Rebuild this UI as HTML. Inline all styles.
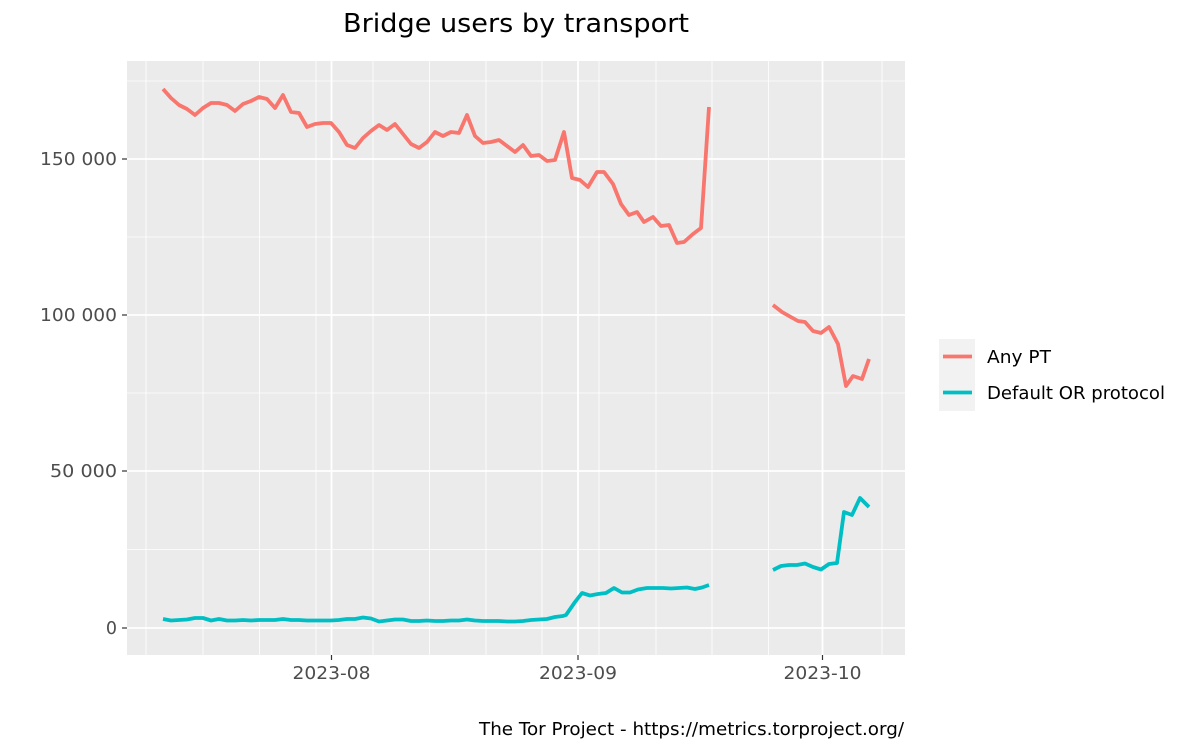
<!DOCTYPE html>
<html><head><meta charset="utf-8"><style>
html,body{margin:0;padding:0;background:#fff;}
svg{display:block;font-family:"DejaVu Sans","Liberation Sans",sans-serif;}
</style></head><body>
<svg width="1200" height="750" viewBox="0 0 1200 750" xmlns="http://www.w3.org/2000/svg">
<rect x="0" y="0" width="1200" height="750" fill="#fff"/>
<text x="516" y="32" font-size="26" text-anchor="middle" fill="#000" textLength="346" lengthAdjust="spacingAndGlyphs">Bridge users by transport</text>
<rect x="127" y="61" width="778" height="594" fill="#ebebeb"/>
<g stroke="#fff" stroke-width="0.8" fill="none">
<line x1="127" x2="905" y1="549.5" y2="549.5"/>
<line x1="127" x2="905" y1="393" y2="393"/>
<line x1="127" x2="905" y1="237" y2="237"/>
<line x1="127" x2="905" y1="81" y2="81"/>
<line y1="61" y2="655" x1="146" x2="146"/>
<line y1="61" y2="655" x1="203" x2="203"/>
<line y1="61" y2="655" x1="259.5" x2="259.5"/>
<line y1="61" y2="655" x1="316" x2="316"/>
<line y1="61" y2="655" x1="373" x2="373"/>
<line y1="61" y2="655" x1="429.5" x2="429.5"/>
<line y1="61" y2="655" x1="486" x2="486"/>
<line y1="61" y2="655" x1="542" x2="542"/>
<line y1="61" y2="655" x1="599" x2="599"/>
<line y1="61" y2="655" x1="656" x2="656"/>
<line y1="61" y2="655" x1="712" x2="712"/>
<line y1="61" y2="655" x1="768.5" x2="768.5"/>
<line y1="61" y2="655" x1="882" x2="882"/>
</g>
<g stroke="#fff" stroke-width="1.8" fill="none">
<line x1="127" x2="905" y1="628" y2="628"/>
<line x1="127" x2="905" y1="471" y2="471"/>
<line x1="127" x2="905" y1="315" y2="315"/>
<line x1="127" x2="905" y1="159" y2="159"/>
<line y1="61" y2="655" x1="331.5" x2="331.5"/>
<line y1="61" y2="655" x1="578" x2="578"/>
<line y1="61" y2="655" x1="822.5" x2="822.5"/>
</g>
<g stroke="#333" stroke-width="1.2">
<line x1="122" x2="127" y1="628" y2="628"/>
<line x1="122" x2="127" y1="471" y2="471"/>
<line x1="122" x2="127" y1="315" y2="315"/>
<line x1="122" x2="127" y1="159" y2="159"/>
<line y1="655" y2="660" x1="331.5" x2="331.5"/>
<line y1="655" y2="660" x1="578" x2="578"/>
<line y1="655" y2="660" x1="822.5" x2="822.5"/>
</g>
<g font-size="17.5" fill="#4d4d4d" text-anchor="end">
<text x="117" y="634">0</text>
<text x="117" y="477" textLength="67" lengthAdjust="spacingAndGlyphs">50 000</text>
<text x="117" y="321" textLength="77" lengthAdjust="spacingAndGlyphs">100 000</text>
<text x="117" y="165" textLength="77" lengthAdjust="spacingAndGlyphs">150 000</text>
</g>
<g font-size="17.5" fill="#4d4d4d" text-anchor="middle">
<text x="331.5" y="679" textLength="78" lengthAdjust="spacingAndGlyphs">2023-08</text>
<text x="578" y="679" textLength="78" lengthAdjust="spacingAndGlyphs">2023-09</text>
<text x="822.5" y="679" textLength="78" lengthAdjust="spacingAndGlyphs">2023-10</text>
</g>
<g fill="none" stroke="#f8766d" stroke-width="3.8" stroke-linejoin="round">
<polyline points="163,89 171,98 179,105 187,109 195,115 203,108 211,103 219,103 227,105 235,111 243,104 251,101 259,97 267,99 275,108 283,95 291,112 299,113 307,127 315,124 323,123 331,123 339,132 347,145 355,148 363,138 371,131 379,125 387,130 395,124 403,134 411,144 419,148 427,142 435,132 443,136 451,132 459,133 467,115 475,136 483,143 491,142 499,140 507,146 515,152 523,145 531,156 539,155 547,161 555,160 564,132 572,178 580,180 588,187 597,172 604,172 613,184 621,204 629,215 637,212 644,222 653,217 661,226 669,225 677,243 684,242 693,234 701,228 709,107"/>
<polyline points="773,305 782,312 789,316 798,321 805,322 813,331 821,333 829,327 838,344 846,386 853,376 862,379 869,359"/>
</g>
<g fill="none" stroke="#00bfc4" stroke-width="3.8" stroke-linejoin="round">
<polyline points="163,619 171,620.5 179,620 187,619.5 195,618 203,618 211,620.5 219,619 227,620.5 235,620.5 243,620 251,620.5 259,620 267,620 275,620 283,619 291,620 299,620 307,620.5 315,620.5 323,620.5 331,620.5 339,620 347,619 355,619 363,617.5 371,618.5 379,621.5 387,620.5 395,619.5 403,619.5 411,621 419,621 427,620.5 435,621 443,621 451,620.5 459,620.5 467,619.5 475,620.5 483,621 491,621 499,621 507,621.5 515,621.5 523,621 531,620 539,619.5 547,619 555,617 563,616 566,615 575,602 582,593 590,595.5 598,594 606,593 614,588 622,592.5 630,592.5 638,589.5 647,588 655,588 663,588 671,588.5 679,588 687,587.5 695,589 702,587.5 709,585"/>
<polyline points="773,570 781,566 789,565 797,565 805,563.5 813,567 821,569.5 829,564 837,563 844,512 852,515 860,498 869,507"/>
</g>
<rect x="939" y="339" width="36" height="72" fill="#f2f2f2"/>
<line x1="943" x2="972" y1="356.5" y2="356.5" stroke="#f8766d" stroke-width="3.8"/>
<line x1="943" x2="972" y1="392.5" y2="392.5" stroke="#00bfc4" stroke-width="3.8"/>
<g font-size="17.5" fill="#000">
<text x="987" y="363" textLength="64" lengthAdjust="spacingAndGlyphs">Any PT</text>
<text x="987" y="399" textLength="178" lengthAdjust="spacingAndGlyphs">Default OR protocol</text>
</g>
<text x="904" y="735" font-size="18" text-anchor="end" fill="#000" textLength="425" lengthAdjust="spacingAndGlyphs">The Tor Project - https://metrics.torproject.org/</text>
</svg>
</body></html>
